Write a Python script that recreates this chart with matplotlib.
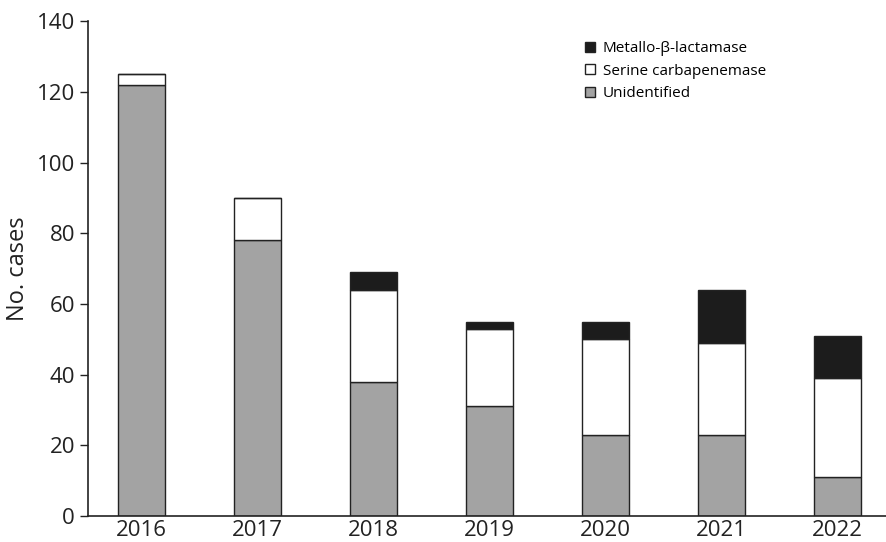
import numpy as np
import matplotlib
matplotlib.use("Agg")
from matplotlib import pyplot as plt

plt.rcParams['font.family'] = ['Open Sans', 'DejaVu Sans']

years = ['2016', '2017', '2018', '2019', '2020', '2021', '2022']
unidentified = [122, 78, 38, 31, 23, 23, 11]
serine = [3, 12, 26, 22, 27, 26, 28]
metallo = [0, 0, 5, 2, 5, 15, 12]

fig = plt.figure(figsize=(8.87, 5.42), dpi=100)
ax = fig.add_axes([0.0987, 0.048, 0.9013, 0.913])

x = np.arange(len(years))
w = 0.405
unid = np.array(unidentified)
ser = np.array(serine)
met = np.array(metallo)

b1 = ax.bar(x, unid, w, color='#a3a3a3', edgecolor='#222222', linewidth=1.0, label='Unidentified')
b2 = ax.bar(x, ser, w, bottom=unid, color='white', edgecolor='#222222', linewidth=1.0,
            label='Serine carbapenemase')
b3 = ax.bar(x, met, w, bottom=unid + ser, color='#1c1c1c', edgecolor='#222222', linewidth=1.0,
            label='Metallo-\u03b2-lactamase')

ax.set_xlim(-0.466, 6.43)
ax.set_ylim(0, 140)
ax.set_yticks(range(0, 141, 20))
ax.set_xticks(x)
ax.set_xticklabels(years)
ax.tick_params(axis='x', length=0, labelsize=16, pad=3, colors='#222222')
ax.tick_params(axis='y', length=6, width=1, labelsize=16, pad=3, colors='#222222')
for s in ['top', 'right']:
    ax.spines[s].set_visible(False)
for s in ['left', 'bottom']:
    ax.spines[s].set_color('#222222')
    ax.spines[s].set_linewidth(1.2)
ax.set_ylabel('No. cases', fontsize=17, color='#222222', labelpad=5)

ax.legend([b3, b2, b1], ['Metallo-\u03b2-lactamase', 'Serine carbapenemase', 'Unidentified'],
          loc='upper left', bbox_to_anchor=(0.615, 0.972), frameon=False, fontsize=11,
          handlelength=0.65, handleheight=0.65, handletextpad=0.5, labelspacing=0.5,
          borderaxespad=0)

fig.savefig('out.png', dpi=100)
